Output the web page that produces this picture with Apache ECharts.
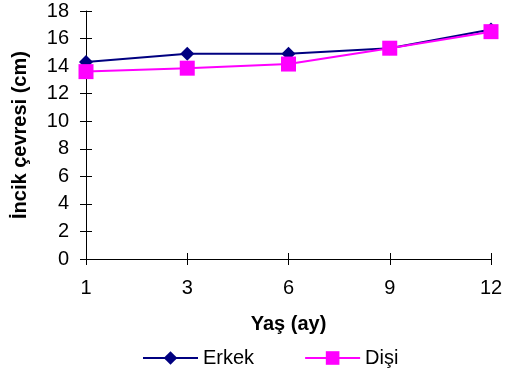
<!DOCTYPE html>
<html>
<head>
<meta charset="utf-8">
<script src="https://cdn.jsdelivr.net/npm/echarts@6/dist/echarts.min.js"></script>
<style>
  html, body { margin: 0; padding: 0; background: #fff; }
  #chart { width: 511px; height: 373px; }
</style>
</head>
<body>
<div id="chart"></div>
<script>
// Age in months
const ages = ['1', '3', '6', '9', '12'];
// Shin circumference (cm)
const erkek = [14.3, 14.9, 14.9, 15.3, 16.65];
const disi = [13.6, 13.85, 14.15, 15.3, 16.5];
const yTicks = { min: 0, max: 18, interval: 2 };

const font = 'Liberation Sans, Arial, sans-serif';
const chart = echarts.init(document.getElementById('chart'));

const axisLine = { show: true, lineStyle: { color: '#000', width: 1 } };
const tickStyle = { color: '#000', width: 1 };

chart.setOption({
  animation: false,
  textStyle: { fontFamily: font },
  grid: { left: 86, right: 20, top: 11, bottom: 114, containLabel: false },
  legend: {
    top: 348,
    left: 142,
    padding: 0,
    itemGap: 50,
    itemWidth: 55,
    itemHeight: 17,
    textStyle: { fontFamily: font, fontSize: 20, color: '#000' },
    data: ['Erkek', 'Dişi']
  },
  xAxis: [{
    type: 'category',
    data: ages,
    boundaryGap: false,
    name: 'Yaş (ay)',
    nameLocation: 'middle',
    nameGap: 55,
    nameTextStyle: { fontFamily: font, fontSize: 20, fontWeight: 'bold', color: '#000' },
    axisLine: axisLine,
    axisTick: { show: true, alignWithLabel: true, length: 6, lineStyle: tickStyle },
    axisLabel: { fontFamily: font, fontSize: 20, color: '#000', margin: 19 },
    splitLine: { show: false }
  }, {
    // inner half of the crossing tick marks
    type: 'category',
    data: ages,
    boundaryGap: false,
    position: 'bottom',
    axisLine: { show: false },
    axisTick: { show: true, inside: true, length: 6, lineStyle: tickStyle },
    axisLabel: { show: false },
    splitLine: { show: false }
  }],
  yAxis: [{
    type: 'value',
    min: yTicks.min,
    max: yTicks.max,
    interval: yTicks.interval,
    name: 'İncik çevresi (cm)',
    nameLocation: 'middle',
    nameGap: 56,
    nameTextStyle: { fontFamily: font, fontSize: 20, fontWeight: 'bold', color: '#000' },
    axisLine: axisLine,
    axisTick: { show: true, length: 6, lineStyle: tickStyle },
    axisLabel: { fontFamily: font, fontSize: 20, color: '#000', margin: 17 },
    splitLine: { show: false }
  }, {
    // inner half of the crossing tick marks
    type: 'value',
    min: yTicks.min,
    max: yTicks.max,
    interval: yTicks.interval,
    position: 'left',
    axisLine: { show: false },
    axisTick: { show: true, inside: true, length: 6, lineStyle: tickStyle },
    axisLabel: { show: false },
    splitLine: { show: false }
  }],
  series: [{
    name: 'Erkek',
    type: 'line',
    data: erkek,
    symbol: 'diamond',
    symbolSize: 14,
    itemStyle: { color: '#000080' },
    lineStyle: { color: '#000080', width: 2 },
    z: 3
  }, {
    name: 'Dişi',
    type: 'line',
    data: disi,
    symbol: 'rect',
    symbolSize: 15,
    itemStyle: { color: '#FF00FF' },
    lineStyle: { color: '#FF00FF', width: 2 },
    z: 4
  }]
});
</script>
</body>
</html>
